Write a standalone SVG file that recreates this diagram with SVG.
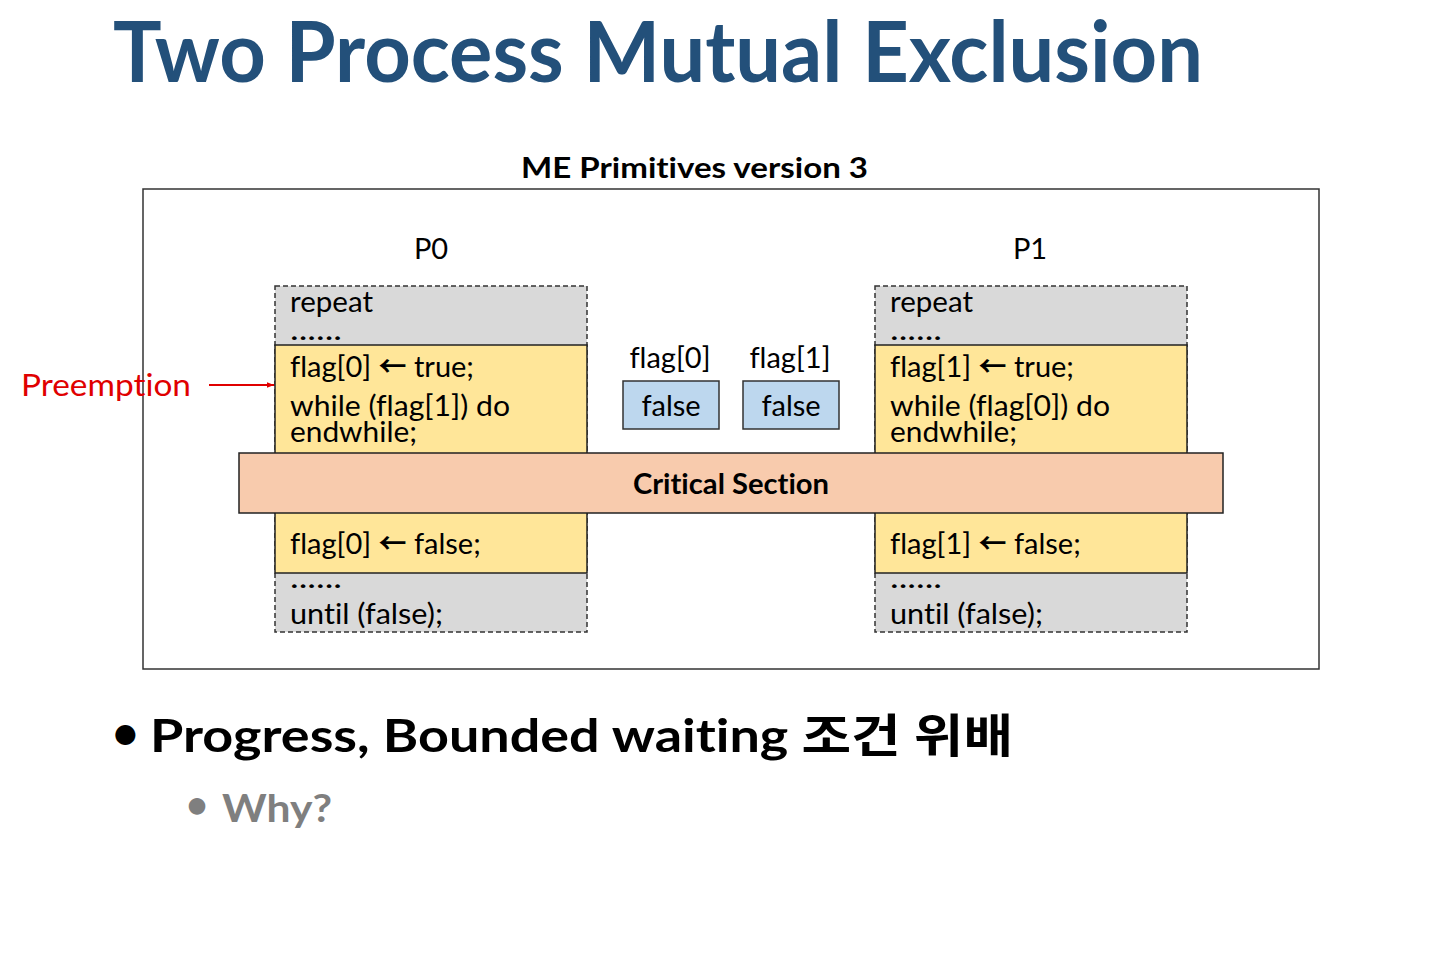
<svg xmlns="http://www.w3.org/2000/svg" width="1433" height="961" viewBox="0 0 1433 961">
  <defs>
    <marker id="arrowRed" viewBox="0 0 10 10" refX="10" refY="5" markerWidth="7" markerHeight="7" orient="auto" markerUnits="userSpaceOnUse">
      <path d="M0,1 L10,5 L0,9 z" fill="#E00000"/>
    </marker>
    <style>
      text { font-family: Lato, "Open Sans", "Noto Sans CJK KR", sans-serif; font-variant-ligatures: none; }
      .title { font-size: 84px; font-weight: bold; fill: #23507A; }
      .sub { font-size: 29px; font-weight: bold; fill: #000; }
      .code { font-size: 29px; fill: #000; }
      .arw { font-family: "Noto Sans CJK KR", sans-serif; font-weight: bold; font-size: 28px; }
      .gray { fill: #D9D9D9; stroke: #333; stroke-width: 1.5; stroke-dasharray: 5 3; }
      .yellow { fill: #FFE699; stroke: #222; stroke-width: 1.5; }
      .flagbox { fill: #BDD7EE; stroke: #333; stroke-width: 1.5; }
      .cs { fill: #F8CBAD; stroke: #222; stroke-width: 1.5; }
      .bullet { font-size: 46px; font-weight: bold; fill: #000; }
      .bullet2 { font-size: 38px; font-weight: bold; fill: #7F7F7F; }
    </style>
  </defs>

  <rect width="1433" height="961" fill="#fff"/>

  <text class="title" x="113" y="82" textLength="1090" lengthAdjust="spacingAndGlyphs">Two Process Mutual Exclusion</text>
  <text class="sub" x="521" y="178" textLength="347" lengthAdjust="spacingAndGlyphs">ME Primitives version 3</text>

  <!-- frame -->
  <rect x="143" y="189" width="1176" height="480" fill="none" stroke="#333" stroke-width="1.5"/>

  <!-- process P0 -->
  <g id="p0">
    <text class="code" x="431" y="259" text-anchor="middle">P0</text>
    <rect class="gray" x="275" y="286" width="312" height="346"/>
    <rect class="yellow" x="275" y="345" width="312" height="228"/>
    <text class="code" x="290" y="312" textLength="83" lengthAdjust="spacingAndGlyphs">repeat</text>
    <text class="code" x="290" y="340" textLength="52" lengthAdjust="spacingAndGlyphs">......</text>
    <text class="code" x="290" y="377">flag[0] <tspan class="arw">←</tspan> true;</text>
    <text class="code" x="290" y="416" textLength="220" lengthAdjust="spacingAndGlyphs">while (flag[1]) do</text>
    <text class="code" x="290" y="442" textLength="127" lengthAdjust="spacingAndGlyphs">endwhile;</text>
    <text class="code" x="290" y="554">flag[0] <tspan class="arw">←</tspan> false;</text>
    <text class="code" x="290" y="588" textLength="52" lengthAdjust="spacingAndGlyphs">......</text>
    <text class="code" x="290" y="624" textLength="153" lengthAdjust="spacingAndGlyphs">until (false);</text>
  </g>

  <!-- process P1 -->
  <g id="p1">
    <text class="code" x="1030" y="259" text-anchor="middle">P1</text>
    <rect class="gray" x="875" y="286" width="312" height="346"/>
    <rect class="yellow" x="875" y="345" width="312" height="228"/>
    <text class="code" x="890" y="312" textLength="83" lengthAdjust="spacingAndGlyphs">repeat</text>
    <text class="code" x="890" y="340" textLength="52" lengthAdjust="spacingAndGlyphs">......</text>
    <text class="code" x="890" y="377">flag[1] <tspan class="arw">←</tspan> true;</text>
    <text class="code" x="890" y="416" textLength="220" lengthAdjust="spacingAndGlyphs">while (flag[0]) do</text>
    <text class="code" x="890" y="442" textLength="127" lengthAdjust="spacingAndGlyphs">endwhile;</text>
    <text class="code" x="890" y="554">flag[1] <tspan class="arw">←</tspan> false;</text>
    <text class="code" x="890" y="588" textLength="52" lengthAdjust="spacingAndGlyphs">......</text>
    <text class="code" x="890" y="624" textLength="153" lengthAdjust="spacingAndGlyphs">until (false);</text>
  </g>

  <!-- shared flags -->
  <g id="flag0">
    <text class="code" x="670" y="368" text-anchor="middle">flag[0]</text>
    <rect class="flagbox" x="623" y="381" width="96" height="48"/>
    <text class="code" x="671" y="416" text-anchor="middle">false</text>
  </g>
  <g id="flag1">
    <text class="code" x="790" y="368" text-anchor="middle">flag[1]</text>
    <rect class="flagbox" x="743" y="381" width="96" height="48"/>
    <text class="code" x="791" y="416" text-anchor="middle">false</text>
  </g>

  <!-- critical section band -->
  <g id="critical">
    <rect class="cs" x="239" y="453" width="984" height="60"/>
    <text class="code" x="731" y="494" text-anchor="middle" font-weight="bold" textLength="196" lengthAdjust="spacingAndGlyphs">Critical Section</text>
  </g>

  <!-- preemption label -->
  <g id="preemption">
    <text x="21" y="396" font-size="31" fill="#E00000" textLength="170" lengthAdjust="spacingAndGlyphs">Preemption</text>
  </g>

  <g id="connectors">
    <line x1="209" y1="385" x2="274" y2="385" stroke="#E00000" stroke-width="2" marker-end="url(#arrowRed)"/>
  </g>

  <!-- bullets -->
  <text class="bullet" x="112" y="749" font-size="34">•</text>
  <text class="bullet" x="150" y="752" textLength="863" lengthAdjust="spacingAndGlyphs">Progress, Bounded waiting 조건 위배</text>
  <text class="bullet2" x="186" y="818" font-size="26">•</text>
  <text class="bullet2" x="222" y="822" textLength="110" lengthAdjust="spacingAndGlyphs">Why?</text>
</svg>
